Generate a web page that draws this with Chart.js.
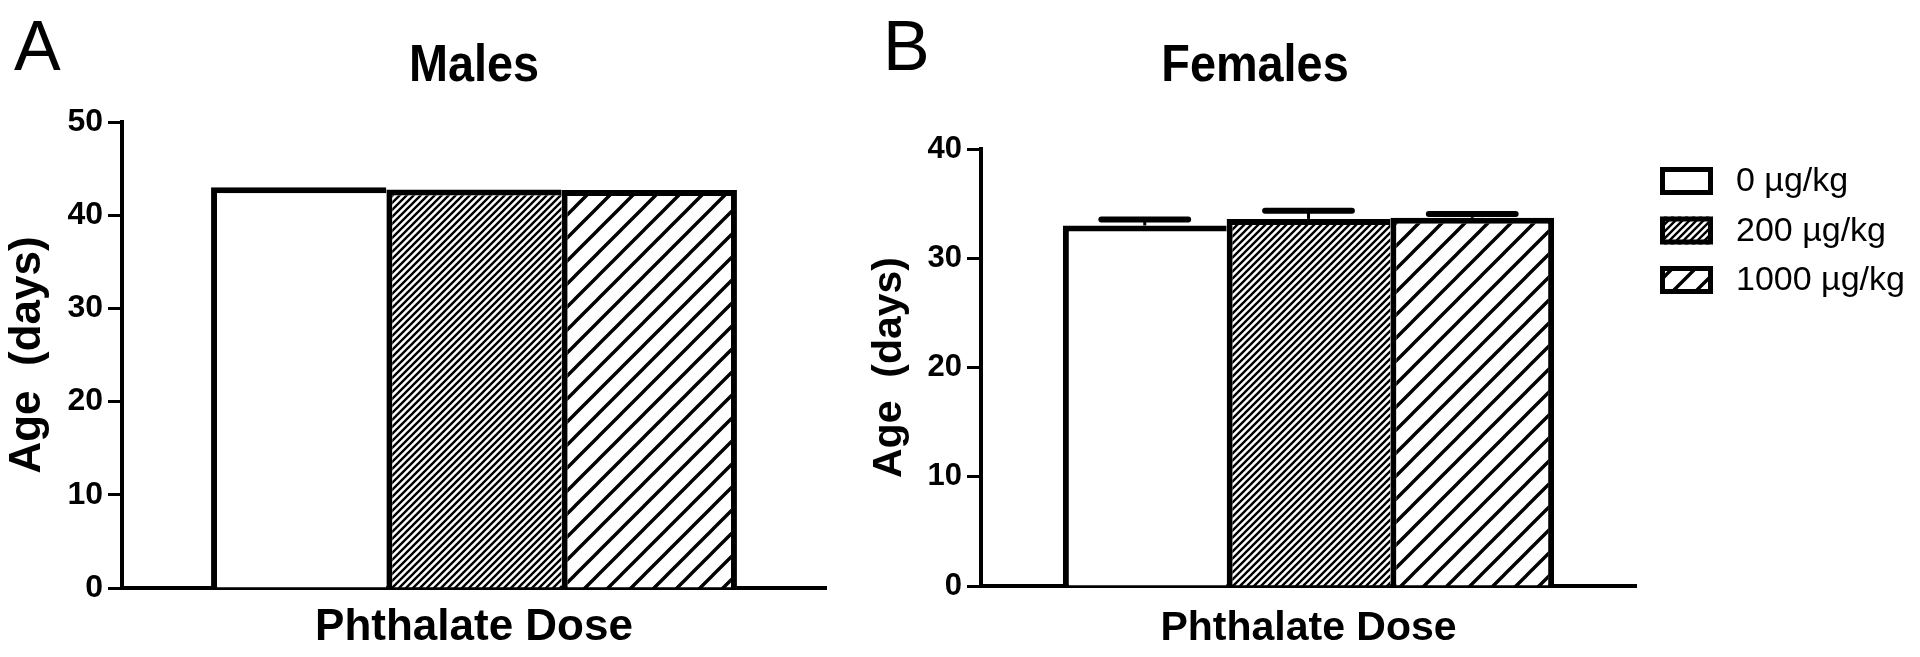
<!DOCTYPE html>
<html><head><meta charset="utf-8">
<script src="https://cdn.jsdelivr.net/npm/chart.js@4.4.1/dist/chart.umd.min.js"></script>
<style>
html,body{margin:0;padding:0;background:#fff;width:1920px;height:657px;overflow:hidden}
canvas{position:absolute;top:0}
#cA{left:0}
#cB{left:860px}
</style></head><body>
<canvas id="cA" width="860" height="657"></canvas>
<canvas id="cB" width="1060" height="657"></canvas>
<script>
// ---- data ----
const doseLabels = ['0 µg/kg', '200 µg/kg', '1000 µg/kg'];
const categories = [''];
const malesAge = [43.0, 42.75, 42.7];
const femalesAge = [33.0, 33.6, 33.7];
const femalesSEM = [0.55, 0.75, 0.35];
const malesYTicks = [0, 10, 20, 30, 40, 50];
const femalesYTicks = [0, 10, 20, 30, 40];
const panelTitles = ['Males', 'Females'];
const panelLetters = ['A', 'B'];
const xAxisTitle = 'Phthalate Dose';
const yAxisTitle = 'Age  (days)';

const FF = "'Liberation Sans', Arial, sans-serif";

function makeHatch(spacing, lw) {
  const tile = document.createElement('canvas');
  tile.width = spacing; tile.height = spacing;
  const t = tile.getContext('2d');
  t.fillStyle = '#fff'; t.fillRect(0, 0, spacing, spacing);
  t.strokeStyle = '#000'; t.lineWidth = lw;
  t.beginPath();
  t.moveTo(-1, spacing + 1); t.lineTo(spacing + 1, -1);
  t.moveTo(-spacing / 2, spacing / 2); t.lineTo(spacing / 2, -spacing / 2);
  t.moveTo(spacing / 2, spacing * 1.5); t.lineTo(spacing * 1.5, spacing / 2);
  t.stroke();
  return document.createElement('canvas').getContext('2d').createPattern(tile, 'repeat');
}
const fills = ['#ffffff', makeHatch(7, 2.4), makeHatch(23, 3.4)];

function datasetsFor(values) {
  return values.map((v, i) => ({
    label: doseLabels[i],
    data: [v],
    backgroundColor: fills[i],
    borderColor: '#000',
    borderWidth: {top: 6, left: 6, right: i === values.length - 1 ? 6 : 0, bottom: 0},
    borderSkipped: false
  }));
}

const errorBars = {
  id: 'errorBars',
  afterDatasetsDraw(chart, args, o) {
    if (!o || !o.err) return;
    const ctx = chart.ctx, ys = chart.scales.y;
    chart.data.datasets.forEach((ds, i) => {
      chart.getDatasetMeta(i).data.forEach((bar, j) => {
        const yt = ys.getPixelForValue(ds.data[j] + o.err[i]);
        const w = bar.width * 0.53;
        ctx.save();
        ctx.strokeStyle = '#000';
        ctx.lineWidth = 3;
        ctx.beginPath(); ctx.moveTo(bar.x, bar.y); ctx.lineTo(bar.x, yt); ctx.stroke();
        ctx.lineWidth = 6; ctx.lineCap = 'round';
        ctx.beginPath(); ctx.moveTo(bar.x - w / 2, yt); ctx.lineTo(bar.x + w / 2, yt); ctx.stroke();
        ctx.restore();
      });
    });
  }
};

const panelText = {
  id: 'panelText',
  afterDraw(chart, args, o) {
    const ctx = chart.ctx;
    ctx.save();
    ctx.fillStyle = '#000';
    ctx.textBaseline = 'alphabetic';
    ctx.textAlign = 'left';
    ctx.font = `400 ${o.letterSize}px ${FF}`;
    ctx.fillText(o.letter, o.letterX, o.letterBase);
    ctx.translate(o.titleX, o.titleBase);
    ctx.scale(o.titleScaleX, 1);
    ctx.textAlign = 'center';
    ctx.font = `700 ${o.titleSize}px ${FF}`;
    ctx.fillText(o.title, 0, 0);
    ctx.restore();
    if (o.legend) {
      const L = o.legend;
      chart.data.datasets.forEach((ds, i) => {
        const cy = L.y0 + i * L.dy;
        const bx = L.x, by = cy - L.h / 2;
        ctx.save();
        ctx.fillStyle = ds.backgroundColor;
        ctx.fillRect(bx, by, L.w, L.h);
        ctx.strokeStyle = '#000';
        ctx.lineWidth = L.lw;
        ctx.strokeRect(bx + L.lw / 2, by + L.lw / 2, L.w - L.lw, L.h - L.lw);
        ctx.fillStyle = '#000';
        ctx.font = `400 ${L.size}px ${FF}`;
        ctx.textAlign = 'left';
        ctx.textBaseline = 'middle';
        ctx.fillText(ds.label, L.tx, cy + 1);
        ctx.restore();
      });
    }
  }
};

function makeOptions(c) {
  return {
    responsive: false, animation: false, devicePixelRatio: 1,
    layout: {padding: {left: 0, right: c.padRight, top: c.top, bottom: 0}},
    datasets: {bar: {barPercentage: 1, categoryPercentage: c.catPct}},
    plugins: {
      legend: {display: false}, tooltip: {enabled: false}, title: {display: false},
      errorBars: c.errorBars || {},
      panelText: c.panelText
    },
    scales: {
      x: {
        type: 'category', offset: true, z: 1,
        grid: {display: false},
        border: {display: true, color: '#000', width: 4},
        ticks: {display: false},
        title: {display: true, text: xAxisTitle, color: '#000',
                font: {family: FF, size: c.xTitleSize, weight: 'bold'},
                padding: {top: 0, bottom: c.xTitlePad}},
        afterFit(s) { s.height = c.xHeight; }
      },
      y: {
        min: c.ticks[0], max: c.ticks[c.ticks.length - 1], z: 1,
        ticks: {stepSize: c.ticks[1] - c.ticks[0], color: '#000', padding: 5,
                font: {family: FF, size: c.tickSize, weight: 'bold'}},
        grid: {drawOnChartArea: false, drawTicks: true, tickLength: 14, tickWidth: 3, tickColor: '#000'},
        border: {display: true, color: '#000', width: 4},
        title: {display: true, text: yAxisTitle, color: '#000',
                font: {family: FF, size: c.yTitleSize, weight: 'bold'},
                padding: {top: c.yTitlePad, bottom: 0}},
        afterFit(s) { s.width = c.yWidth; }
      }
    }
  };
}

new Chart(document.getElementById('cA'), {
  type: 'bar',
  data: {labels: categories, datasets: datasetsFor(malesAge)},
  options: makeOptions({
    padRight: 34, top: 122, catPct: 0.747, xTitleSize: 44, xTitlePad: 3, xHeight: 69,
    ticks: malesYTicks, tickSize: 32, yTitleSize: 44, yTitlePad: 1, yWidth: 122,
    panelText: {letter: panelLetters[0], letterX: 14, letterBase: 70, letterSize: 70,
                title: panelTitles[0], titleX: 474, titleBase: 81, titleSize: 52, titleScaleX: 0.9}
  }),
  plugins: [errorBars, panelText]
});

new Chart(document.getElementById('cB'), {
  type: 'bar',
  data: {labels: categories, datasets: datasetsFor(femalesAge)},
  options: makeOptions({
    padRight: 284, top: 149, catPct: 0.75, xTitleSize: 41, xTitlePad: 4, xHeight: 71,
    ticks: femalesYTicks, tickSize: 31, yTitleSize: 41, yTitlePad: 5, yWidth: 121,
    errorBars: {err: femalesSEM},
    panelText: {letter: panelLetters[1], letterX: 23, letterBase: 70, letterSize: 70,
                title: panelTitles[1], titleX: 395, titleBase: 81, titleSize: 52, titleScaleX: 0.9,
                legend: {x: 800, y0: 181, dy: 49.5, w: 53, h: 28, lw: 5, tx: 876, size: 34}}
  }),
  plugins: [errorBars, panelText]
});
</script>
</body></html>
